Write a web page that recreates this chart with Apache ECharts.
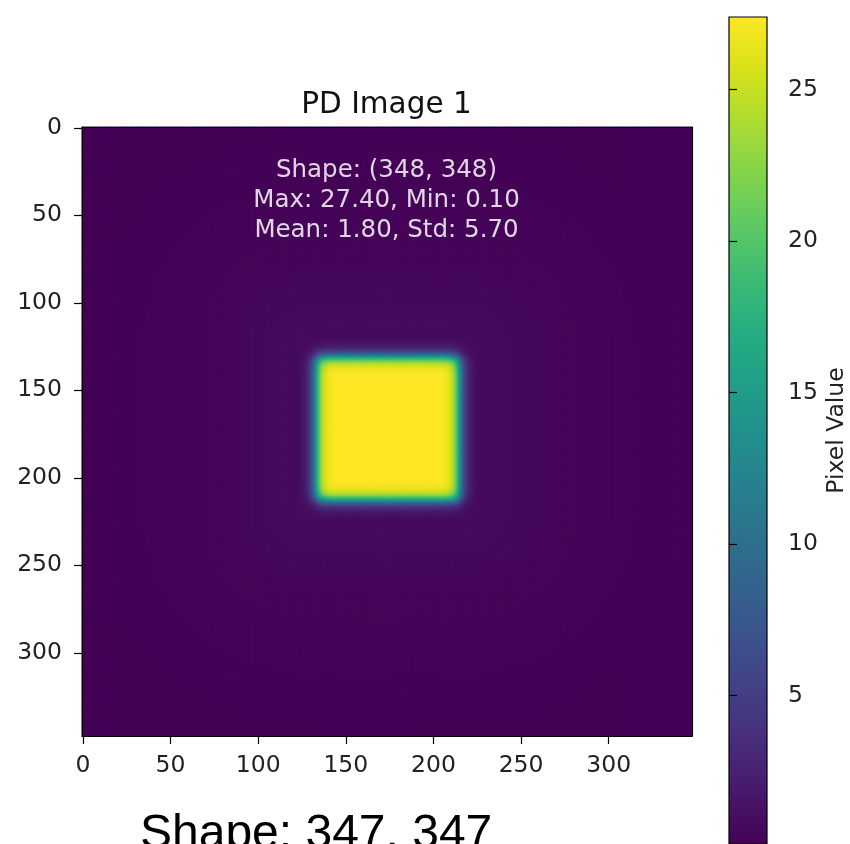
<!DOCTYPE html>
<html>
<head>
<meta charset="utf-8">
<script src="https://cdn.jsdelivr.net/npm/echarts@6/dist/echarts.min.js"></script>
<style>
  html, body { margin: 0; padding: 0; background: #ffffff; }
  #chart { width: 850px; height: 844px; }
</style>
</head>
<body>
<div id="chart"></div>
<script>
// Image geometry and value range
const imageSize = 348;
const valueMin = 0.1;
const valueMax = 27.4;

// Bright square: half-level edges (column / row indices)
const squareCols = [133, 215];
const squareRows = [131, 213];

// Fraction of the plateau reached at signed distance -10..+10 px from a square edge
const edgeFraction = [0.00, 0.01, 0.02, 0.03, 0.05, 0.08, 0.12, 0.18, 0.26, 0.37, 0.50,
                      0.63, 0.74, 0.82, 0.88, 0.92, 0.95, 0.97, 0.98, 0.99, 1.00];
const edgeOffset = 10;

// Background level per 10 px of distance outside the square
const haloLevels = [0.95, 0.85, 0.75, 0.66, 0.58, 0.50, 0.44, 0.39, 0.34, 0.30,
                    0.27, 0.24, 0.22, 0.20, 0.18, 0.17, 0.16, 0.15, 0.14, 0.13];

// Axis ticks
const axisTickValues = [0, 50, 100, 150, 200, 250, 300];
const colorbarTicks = [5, 10, 15, 20, 25];

// Annotation text
const titleText = 'PD Image 1';
const statsLines = ['Shape: (348, 348)', 'Max: 27.40, Min: 0.10', 'Mean: 1.80, Std: 5.70'];
const footerText = 'Shape: 347, 347';
const colorbarLabel = 'Pixel Value';

// viridis colour map
const viridis = ['#440154', '#48186a', '#472d7b', '#424086', '#3b528b', '#33638d',
                 '#2c728e', '#26828e', '#21918c', '#1fa088', '#28ae80', '#3fbc73',
                 '#5ec962', '#84d44b', '#addc30', '#d8e219', '#fde725'];

// Build the pixel table for the heatmap
const categories = [];
for (let i = 0; i < imageSize; i++) categories.push(String(i));

function edgeLookup(d) {
  const k = Math.max(0, Math.min(edgeFraction.length - 1, d + edgeOffset));
  return edgeFraction[k];
}
function haloLookup(col, row) {
  const dx = Math.max(squareCols[0] - col, 0, col - squareCols[1]);
  const dy = Math.max(squareRows[0] - row, 0, row - squareRows[1]);
  const dist = Math.sqrt(dx * dx + dy * dy);
  const k = Math.min(haloLevels.length - 1, Math.floor(dist / 10));
  return haloLevels[k];
}

const pixels = [];
for (let row = 0; row < imageSize; row++) {
  const fy = edgeLookup(Math.min(row - squareRows[0], squareRows[1] - row));
  for (let col = 0; col < imageSize; col++) {
    const fx = edgeLookup(Math.min(col - squareCols[0], squareCols[1] - col));
    const bg = haloLookup(col, row);
    const v = bg + (valueMax - bg) * fx * fy;
    pixels.push([col, row, +v.toFixed(2)]);
  }
}

const showTick = (index) => axisTickValues.indexOf(index) !== -1;
const tickFont = { fontSize: 23.5, color: '#222', fontFamily: '"DejaVu Sans"' };
const frameLine = { show: true, onZero: false, lineStyle: { color: '#000', width: 1.2 } };

// image layer: painted twice so anti-aliased cell seams close up
function imageLayer() {
  return {
    type: 'heatmap', xAxisIndex: 0, yAxisIndex: 0,
    data: pixels, progressive: 0, silent: true,
    emphasis: { disabled: true }
  };
}

const chart = echarts.init(document.getElementById('chart'), null, { renderer: 'canvas' });

const option = {
  animation: false,
  backgroundColor: '#ffffff',
  grid: [
    { left: 82, top: 127, width: 610, height: 609, show: true,
      backgroundColor: viridis[0], borderWidth: 0 },
    {
      left: 729, top: 17, width: 43, height: 829,
      show: true,
      backgroundColor: new echarts.graphic.LinearGradient(0, 1, 0, 0,
        viridis.map((c, i) => ({ offset: i / (viridis.length - 1), color: c }))),
      borderColor: '#000', borderWidth: 1.2
    }
  ],
  xAxis: [
    {
      gridIndex: 0, type: 'category', data: categories, position: 'bottom', z: 10,
      axisLine: frameLine,
      axisTick: { show: true, interval: showTick, alignWithLabel: true, length: 8,
                  lineStyle: { color: '#000', width: 1.2 } },
      axisLabel: Object.assign({ interval: showTick, margin: 18 }, tickFont),
      splitLine: { show: false }
    },
    {
      gridIndex: 0, type: 'category', data: categories, position: 'top', z: 10,
      axisLine: frameLine, axisTick: { show: false }, axisLabel: { show: false },
      splitLine: { show: false }
    },
    { gridIndex: 1, type: 'value', show: false, min: 0, max: 1 }
  ],
  yAxis: [
    {
      gridIndex: 0, type: 'category', data: categories, inverse: true, position: 'left', z: 10,
      axisLine: frameLine,
      axisTick: { show: true, interval: showTick, alignWithLabel: true, length: 8,
                  lineStyle: { color: '#000', width: 1.2 } },
      axisLabel: Object.assign({ interval: showTick, margin: 20 }, tickFont),
      splitLine: { show: false }
    },
    {
      gridIndex: 0, type: 'category', data: categories, inverse: true, position: 'right', z: 10,
      axisLine: frameLine, axisTick: { show: false }, axisLabel: { show: false },
      splitLine: { show: false }
    },
    {
      gridIndex: 1, type: 'value', min: valueMin, max: valueMax, position: 'right',
      axisLine: { show: false },
      axisTick: { show: true, customValues: colorbarTicks, length: 8,
                  lineStyle: { color: '#000', width: 1.2 } },
      axisLabel: Object.assign({ customValues: colorbarTicks, margin: 21 }, tickFont),
      splitLine: { show: false },
      name: colorbarLabel, nameLocation: 'middle', nameRotate: 90, nameGap: 58,
      nameTextStyle: { fontSize: 23.5, color: '#222', fontFamily: '"DejaVu Sans"' }
    }
  ],
  visualMap: {
    type: 'continuous', show: false, min: valueMin, max: valueMax,
    seriesIndex: [0, 1], dimension: 2, inRange: { color: viridis }
  },
  series: [imageLayer(), imageLayer()],
  graphic: [
    {
      type: 'text', x: 386.5, y: 105, z: 100,
      style: { text: titleText, font: '29.5px "DejaVu Sans"', fill: '#111',
               align: 'center', verticalAlign: 'middle' }
    },
    {
      type: 'text', x: 386.5, y: 200.5, z: 100,
      style: { text: statsLines.join('\n'), font: '24.5px "DejaVu Sans"', lineHeight: 30,
               fill: 'rgba(255,255,255,0.84)', align: 'center', verticalAlign: 'middle' }
    },
    {
      type: 'text', x: 140, y: 835, z: 100,
      style: { text: footerText, font: '48px "Liberation Sans"', fill: '#000',
               align: 'left', verticalAlign: 'middle' }
    }
  ]
};

chart.setOption(option);
</script>
</body>
</html>
